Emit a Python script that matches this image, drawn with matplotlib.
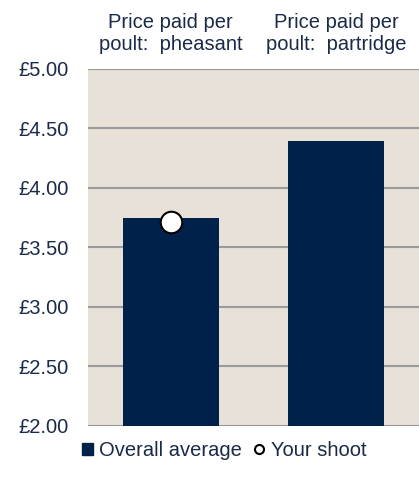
import matplotlib.pyplot as plt
from matplotlib.lines import Line2D
from matplotlib.patches import Patch

plt.rcParams['font.family'] = ['Liberation Sans', 'DejaVu Sans']

categories = ['Price paid per\npoult:  pheasant', 'Price paid per\npoult:  partridge']
overall_average = [3.75, 4.39]
your_shoot = [3.71, None]
y_ticks = [2.0, 2.5, 3.0, 3.5, 4.0, 4.5, 5.0]

navy = '#00224a'
text_col = '#1a2a48'

fig = plt.figure(figsize=(4.19, 4.78), dpi=100)
ax = fig.add_axes([0.21, 0.109, 0.79, 0.747])
ax.set_facecolor('#e8e1d8')

x = list(range(len(categories)))
ax.bar(x, overall_average, width=0.58, color=navy, zorder=3)
px = [i for i, v in zip(x, your_shoot) if v is not None]
py = [v for v in your_shoot if v is not None]
ax.plot(px, py, 'o', ms=15.5, mfc='white', mec='black', mew=1.5, zorder=4, ls='none')

ax.set_xlim(-0.5, 1.5)
ax.set_ylim(2, 5)
ax.set_yticks(y_ticks)
ax.set_yticklabels([f'£{v:.2f}' for v in y_ticks], color=text_col, fontsize=14.5)
ax.yaxis.grid(True, color='#9a9a9a', lw=1.5, zorder=1)
ax.tick_params(axis='y', length=0, pad=14)
ax.xaxis.tick_top()
ax.set_xticks(x)
ax.set_xticklabels(categories, color=text_col, fontsize=14.5, linespacing=1.15)
ax.tick_params(axis='x', length=0, pad=11)
for s in ax.spines.values():
    s.set_visible(False)

# legend under the plot
handles = [Patch(color=navy, label='Overall average'),
           Line2D([], [], marker='o', ls='none', mfc='white', mec='black', mew=1.5, ms=6.5, label='Your shoot')]
fig.legend(handles=handles, loc='center', bbox_to_anchor=(0.535, 0.058), ncol=2, frameon=False,
           fontsize=14.5, handlelength=0.55, handleheight=0.55, handletextpad=0.3, columnspacing=0.6,
           labelcolor=text_col)

fig.savefig('out.png', dpi=100)
